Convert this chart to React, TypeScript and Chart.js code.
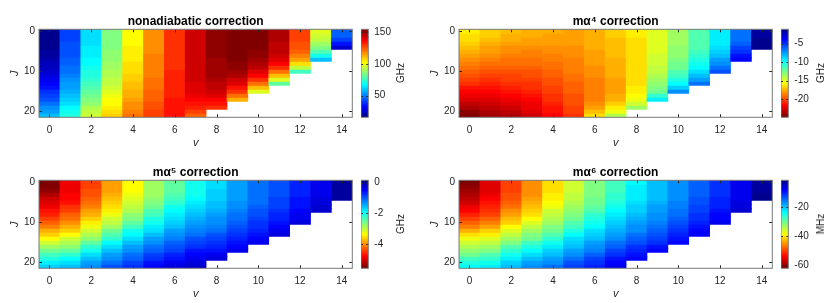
import React, { useEffect, useRef } from 'react';
import { Chart, registerables } from 'chart.js';

Chart.register(...registerables);

const FONT = "'Liberation Sans', Arial, Helvetica, sans-serif";
Chart.defaults.font.family = FONT;
Chart.defaults.color = '#262626';

// vibrational quantum number v (columns) and axis ticks
const V_LEVELS = [0, 1, 2, 3, 4, 5, 6, 7, 8, 9, 10, 11, 12, 13, 14];
const V_TICKS = [0, 2, 4, 6, 8, 10, 12, 14];
const J_TICKS = [0, 10, 20];

// each inner array: values for J = 0 .. Jmax of that v
const NONADIABATIC_GHZ = [
  [15.5, 15.7, 16.1, 16.6, 17.3, 18.3, 19.4, 20.6, 22.1, 23.8, 25.6, 27.7, 29.9, 32.2, 34.8, 37.6, 40.5, 43.6, 47.0, 50.5, 54.1, 58.0],
  [41.0, 41.1, 41.4, 41.8, 42.3, 43.0, 43.7, 44.6, 45.7, 46.9, 48.1, 49.6, 51.1, 52.8, 54.7, 56.6, 58.7, 60.9, 63.2, 65.7, 68.3, 71.0],
  [62.0, 62.1, 62.4, 62.9, 63.5, 64.2, 65.1, 66.1, 67.3, 68.6, 70.1, 71.7, 73.5, 75.4, 77.5, 79.6, 82.0, 84.5, 87.2, 90.0, 92.9, 96.0],
  [84.0, 84.1, 84.3, 84.7, 85.1, 85.6, 86.3, 87.0, 87.9, 88.9, 90.0, 91.2, 92.5, 93.9, 95.4, 97.0, 98.7, 100.6, 102.5, 104.6, 106.7, 109.0],
  [102.0, 102.1, 102.2, 102.5, 102.8, 103.2, 103.7, 104.3, 105.0, 105.7, 106.5, 107.4, 108.4, 109.5, 110.6, 111.9, 113.2, 114.6, 116.1, 117.6, 119.3, 121.0],
  [117.0, 117.0, 117.1, 117.3, 117.5, 117.7, 118.0, 118.3, 118.7, 119.1, 119.6, 120.1, 120.7, 121.3, 122.0, 122.7, 123.5, 124.3, 125.1, 126.1, 127.0, 128.0],
  [130.0, 130.0, 130.1, 130.1, 130.2, 130.3, 130.5, 130.6, 130.8, 131.0, 131.2, 131.4, 131.7, 132.0, 132.3, 132.6, 132.9, 133.3, 133.7, 134.1, 134.5, 135.0],
  [143.0, 143.0, 143.0, 143.0, 143.0, 143.0, 143.0, 143.0, 142.9, 142.9, 142.7, 142.6, 142.3, 141.8, 141.2, 140.3, 139.1, 137.5, 135.3, 132.4, 128.7, 124.0],
  [151.0, 151.0, 151.0, 151.0, 150.9, 150.9, 150.7, 150.5, 150.2, 149.8, 149.2, 148.5, 147.5, 146.2, 144.6, 142.6, 140.2, 137.4, 134.0, 130.0],
  [155.0, 155.0, 155.0, 154.9, 154.8, 154.6, 154.2, 153.6, 152.7, 151.4, 149.6, 147.2, 144.1, 140.1, 135.2, 129.2, 121.8, 113.0],
  [153.5, 153.5, 153.5, 153.4, 153.1, 152.6, 151.8, 150.4, 148.4, 145.6, 141.6, 136.4, 129.6, 121.0, 110.2, 97.0],
  [146.5, 146.5, 146.4, 146.2, 145.7, 144.7, 142.9, 140.1, 135.9, 130.0, 121.8, 111.0, 96.9, 79.0],
  [127.0, 127.0, 126.8, 126.4, 125.3, 123.2, 119.6, 113.8, 105.2, 92.9, 76.0],
  [97.5, 96.1, 93.4, 89.2, 83.8, 76.9, 68.6, 59.0],
  [46.0, 43.9, 39.7, 33.4, 25.0],
];

const MA4_GHZ = [
  [-16.10, -16.39, -16.69, -17.01, -17.33, -17.66, -18.01, -18.37, -18.74, -19.12, -19.50, -19.91, -20.31, -20.74, -21.17, -21.61, -22.06, -22.53, -23.00, -23.60, -24.20, -24.80],
  [-16.80, -17.05, -17.30, -17.58, -17.85, -18.14, -18.44, -18.76, -19.08, -19.40, -19.74, -20.09, -20.44, -20.81, -21.18, -21.57, -21.96, -22.36, -22.77, -23.20, -23.63, -24.07],
  [-17.36, -17.57, -17.78, -18.01, -18.24, -18.48, -18.73, -18.99, -19.26, -19.53, -19.81, -20.10, -20.39, -20.69, -21.00, -21.32, -21.65, -21.98, -22.32, -22.68, -23.03, -23.40],
  [-17.60, -17.78, -17.97, -18.17, -18.37, -18.57, -18.79, -19.01, -19.25, -19.48, -19.72, -19.97, -20.23, -20.49, -20.76, -21.04, -21.32, -21.61, -21.91, -22.21, -22.52, -22.84],
  [-17.74, -17.88, -18.01, -18.16, -18.31, -18.47, -18.63, -18.80, -18.97, -19.14, -19.32, -19.51, -19.70, -19.90, -20.10, -20.30, -20.52, -20.73, -20.95, -21.18, -21.41, -21.65],
  [-17.84, -17.93, -18.03, -18.13, -18.23, -18.33, -18.44, -18.56, -18.67, -18.79, -18.91, -19.04, -19.17, -19.30, -19.44, -19.58, -19.72, -19.87, -20.02, -20.17, -20.33, -20.49],
  [-17.50, -17.55, -17.62, -17.69, -17.76, -17.86, -17.95, -18.05, -18.17, -18.29, -18.40, -18.50, -18.59, -18.66, -18.71, -18.74, -18.69, -18.57, -18.33, -17.98, -17.38, -16.44],
  [-17.03, -17.05, -17.08, -17.12, -17.20, -17.27, -17.36, -17.46, -17.55, -17.65, -17.74, -17.81, -17.88, -17.93, -17.95, -17.91, -17.74, -17.46, -16.98, -16.32, -15.25, -14.07],
  [-16.32, -16.32, -16.34, -16.37, -16.39, -16.44, -16.48, -16.51, -16.53, -16.56, -16.56, -16.53, -16.48, -16.41, -16.29, -16.10, -15.84, -15.37, -14.66, -13.71],
  [-15.04, -15.04, -15.01, -14.99, -14.94, -14.87, -14.78, -14.66, -14.52, -14.35, -14.16, -13.95, -13.71, -13.36, -12.88, -12.29, -11.10, -9.45],
  [-13.47, -13.47, -13.45, -13.40, -13.33, -13.24, -13.07, -12.88, -12.62, -12.29, -11.86, -11.34, -10.63, -9.80, -8.73, -7.31],
  [-11.82, -11.82, -11.77, -11.70, -11.58, -11.39, -11.10, -10.75, -10.32, -9.80, -9.21, -8.50, -7.55, -6.36],
  [-9.56, -9.54, -9.49, -9.37, -9.21, -8.92, -8.45, -7.79, -7.15, -6.41, -5.65],
  [-6.67, -6.60, -6.41, -6.01, -5.53, -4.94, -4.35, -3.76],
  [-1.62, -1.58, -1.50, -1.38, -1.20],
];

const MA5_GHZ = [
  [-5.55, -5.50, -5.40, -5.24, -5.09, -4.95, -4.84, -4.72, -4.58, -4.41, -4.24, -4.04, -3.84, -3.61, -3.36, -3.10, -2.84, -2.59, -2.33, -2.10, -1.87, -1.67],
  [-4.92, -4.91, -4.88, -4.82, -4.75, -4.67, -4.55, -4.43, -4.30, -4.16, -4.01, -3.82, -3.61, -3.36, -3.10, -2.90, -2.70, -2.44, -2.19, -1.96, -1.73, -1.56],
  [-4.41, -4.40, -4.38, -4.34, -4.27, -4.18, -4.07, -3.93, -3.78, -3.65, -3.50, -3.30, -3.10, -2.90, -2.70, -2.47, -2.24, -1.99, -1.73, -1.56, -1.39, -1.28],
  [-3.90, -3.89, -3.87, -3.82, -3.75, -3.67, -3.56, -3.42, -3.27, -3.13, -2.99, -2.79, -2.59, -2.39, -2.19, -1.96, -1.73, -1.59, -1.45, -1.28, -1.10, -0.99],
  [-3.36, -3.35, -3.33, -3.28, -3.20, -3.10, -2.99, -2.88, -2.76, -2.62, -2.47, -2.27, -2.07, -1.90, -1.73, -1.59, -1.45, -1.30, -1.16, -1.02, -0.88, -0.76],
  [-2.87, -2.87, -2.84, -2.80, -2.73, -2.64, -2.53, -2.42, -2.30, -2.16, -2.02, -1.87, -1.73, -1.59, -1.45, -1.30, -1.16, -1.02, -0.88, -0.76, -0.65, -0.53],
  [-2.47, -2.47, -2.44, -2.40, -2.30, -2.19, -2.07, -1.96, -1.85, -1.76, -1.67, -1.56, -1.45, -1.33, -1.22, -1.08, -0.93, -0.83, -0.73, -0.59, -0.45, -0.36],
  [-2.07, -2.07, -2.05, -2.02, -1.94, -1.85, -1.77, -1.69, -1.62, -1.53, -1.45, -1.33, -1.22, -1.10, -0.99, -0.88, -0.76, -0.62, -0.48, -0.39, -0.31, -0.25],
  [-1.73, -1.73, -1.72, -1.70, -1.66, -1.62, -1.56, -1.50, -1.45, -1.36, -1.28, -1.19, -1.10, -0.99, -0.88, -0.81, -0.73, -0.59, -0.45, -0.36],
  [-1.45, -1.45, -1.43, -1.42, -1.38, -1.33, -1.28, -1.22, -1.16, -1.10, -1.05, -0.96, -0.88, -0.81, -0.73, -0.61, -0.48, -0.42],
  [-1.16, -1.16, -1.16, -1.14, -1.13, -1.10, -1.05, -0.99, -0.93, -0.88, -0.82, -0.76, -0.71, -0.59, -0.48, -0.39],
  [-0.93, -0.93, -0.93, -0.92, -0.90, -0.88, -0.83, -0.78, -0.73, -0.68, -0.62, -0.52, -0.42, -0.36],
  [-0.68, -0.68, -0.67, -0.66, -0.64, -0.62, -0.58, -0.52, -0.45, -0.40, -0.36],
  [-0.42, -0.42, -0.41, -0.39, -0.36, -0.33, -0.29, -0.25],
  [-0.02, -0.01, 0.00, 0.02, 0.04],
];

const MA6_MHZ = [
  [-62.0, -60.5, -59.6, -58.4, -57.5, -56.6, -55.4, -54.2, -52.35, -50.54, -48.73, -46.32, -43.91, -40.9, -37.88, -36.07, -34.26, -32.15, -30.04, -27.93, -25.82, -23.41],
  [-55.97, -55.85, -55.49, -54.88, -54.16, -53.26, -52.11, -51.03, -49.94, -48.13, -46.32, -44.21, -42.1, -39.39, -36.67, -34.87, -33.06, -30.95, -28.84, -27.03, -25.22, -22.81],
  [-50.54, -50.42, -50.12, -49.64, -48.98, -48.13, -47.05, -45.84, -44.51, -43.01, -41.5, -39.09, -36.67, -34.87, -33.06, -30.95, -28.84, -26.91, -24.92, -22.93, -21.0, -19.79],
  [-45.72, -45.66, -45.42, -45.06, -44.57, -43.91, -43.01, -41.92, -40.59, -38.6, -36.67, -35.17, -33.66, -31.85, -30.04, -27.93, -25.82, -23.71, -21.6, -20.09, -18.58, -17.38],
  [-41.2, -41.08, -40.77, -40.29, -39.51, -38.48, -37.58, -36.55, -35.47, -34.26, -33.06, -31.55, -30.04, -28.23, -26.42, -24.61, -22.81, -21.3, -19.79, -18.28, -16.78, -15.57],
  [-36.07, -36.01, -35.77, -35.41, -34.93, -34.26, -33.36, -32.33, -31.25, -30.04, -28.84, -27.33, -25.82, -24.01, -22.2, -21.0, -19.79, -18.28, -16.78, -15.27, -13.76, -12.55],
  [-31.85, -31.79, -31.55, -31.19, -30.7, -30.04, -29.14, -28.11, -27.03, -26.0, -24.92, -23.53, -22.2, -21.0, -19.79, -18.58, -17.38, -15.87, -14.36, -12.86, -11.35, -10.44],
  [-27.63, -27.57, -27.33, -26.97, -26.48, -25.82, -24.92, -23.89, -22.81, -21.9, -21.0, -20.09, -19.19, -17.98, -16.78, -15.57, -14.36, -12.86, -11.35, -10.14, -8.94, -7.73],
  [-23.41, -23.35, -23.17, -22.87, -22.44, -21.9, -21.3, -20.69, -20.09, -19.37, -18.58, -17.68, -16.78, -15.57, -14.36, -13.16, -11.95, -10.93, -9.84, -8.33],
  [-20.39, -20.39, -20.27, -20.03, -19.67, -19.19, -18.58, -17.98, -17.38, -16.78, -16.17, -15.27, -14.36, -13.46, -12.55, -11.35, -10.14, -8.63],
  [-17.38, -17.38, -17.26, -17.08, -16.78, -16.47, -15.99, -15.51, -14.97, -14.24, -13.46, -12.73, -11.95, -11.05, -10.14, -8.63],
  [-14.36, -14.36, -14.24, -14.06, -13.76, -13.46, -12.98, -12.49, -11.95, -11.53, -11.05, -10.02, -8.94, -8.33],
  [-11.35, -11.35, -11.29, -11.17, -10.99, -10.75, -10.26, -9.66, -8.94, -8.33, -7.73],
  [-8.03, -8.03, -7.91, -7.67, -7.43, -7.13, -6.7, -6.22],
  [-2.91, -2.85, -2.73, -2.54, -2.3],
];

// colour limits and colour-bar ticks
const NONADIABATIC_CLIM = [15.5, 155];
const MA4_CLIM = [-24.85, -1.15];
const MA5_CLIM = [-5.55, 0.15];
const MA6_CLIM = [-62, -1.7];
const NONADIABATIC_CBAR_TICKS = [50, 100, 150];
const MA4_CBAR_TICKS = [-20, -15, -10, -5];
const MA5_CBAR_TICKS = [-4, -2, 0];
const MA6_CBAR_TICKS = [-60, -40, -20];

const PANELS = [
  { title: 'nonadiabatic correction', unit: 'GHz', values: NONADIABATIC_GHZ, clim: NONADIABATIC_CLIM, cbarTicks: NONADIABATIC_CBAR_TICKS, reversed: false, left: 0, top: 0 },
  { title: 'm\u03B1\u2074 correction', unit: 'GHz', values: MA4_GHZ, clim: MA4_CLIM, cbarTicks: MA4_CBAR_TICKS, reversed: true, left: 420, top: 0 },
  { title: 'm\u03B1\u2075 correction', unit: 'GHz', values: MA5_GHZ, clim: MA5_CLIM, cbarTicks: MA5_CBAR_TICKS, reversed: true, left: 0, top: 151 },
  { title: 'm\u03B1\u2076 correction', unit: 'MHz', values: MA6_MHZ, clim: MA6_CLIM, cbarTicks: MA6_CBAR_TICKS, reversed: true, left: 420, top: 151 },
];

const NLEV = 64;

function jet(x: number): string {
  const c = (v: number) => Math.max(0, Math.min(1, v));
  const r = c(Math.min(4 * x - 1.5, -4 * x + 4.5));
  const g = c(Math.min(4 * x - 0.5, -4 * x + 3.5));
  const b = c(Math.min(4 * x + 0.5, -4 * x + 2.5));
  return `rgb(${Math.round(r * 255)},${Math.round(g * 255)},${Math.round(b * 255)})`;
}

function colorFor(val: number, clim: number[], reversed: boolean): string {
  let idx = Math.floor(((val - clim[0]) / (clim[1] - clim[0])) * NLEV) + 1;
  idx = Math.max(1, Math.min(NLEV, idx));
  if (reversed) idx = NLEV + 1 - idx;
  return jet(idx / NLEV);
}

const framePlugin = {
  id: 'matlabFrame',
  afterDatasetsDraw(chart: any, _args: any, opts: any) {
    const { ctx, chartArea: a, scales } = chart;
    const len = opts.tickLen || 3;
    ctx.save();
    ctx.strokeStyle = '#262626';
    ctx.lineWidth = 1;
    ctx.beginPath();
    (opts.xTicks || []).forEach((v: number) => {
      const px = Math.round(scales.x.getPixelForValue(v)) + 0.5;
      ctx.moveTo(px, a.top);
      ctx.lineTo(px, a.top + len);
      ctx.moveTo(px, a.bottom);
      ctx.lineTo(px, a.bottom - len);
    });
    (opts.yTicks || []).forEach((v: number) => {
      const py = Math.round(scales.y.getPixelForValue(v)) + 0.5;
      ctx.moveTo(a.left, py);
      ctx.lineTo(a.left + len, py);
      ctx.moveTo(a.right, py);
      ctx.lineTo(a.right - len, py);
    });
    ctx.stroke();
    ctx.strokeStyle = '#7a7a7a';
    ctx.strokeRect(a.left, a.top, a.right - a.left, a.bottom - a.top);
    ctx.restore();
  },
};

const HW = 357;
const HH = 150;

function Heatmap({ panel }: { panel: any }) {
  const ref = useRef<HTMLCanvasElement>(null);
  useEffect(() => {
    const { values, clim, reversed } = panel;
    const nRows = Math.max(...values.map((c: number[]) => c.length));
    const jRows = Array.from({ length: nRows }, (_, j) => j);
    const datasets = jRows.map((J) => ({
      label: `J=${J}`,
      data: V_LEVELS.map((v) => (J < values[v].length ? [J - 0.5, J + 0.5] : null)),
      backgroundColor: (ctx: any) => {
        const col = values[ctx.dataIndex];
        if (!col || col[J] === undefined) return 'rgba(0,0,0,0)';
        return colorFor(col[J], clim, reversed);
      },
      borderWidth: 0,
      barPercentage: 1,
      categoryPercentage: 1,
    }));
    const chart = new Chart(ref.current as HTMLCanvasElement, {
      type: 'bar',
      data: { labels: V_LEVELS.map(String), datasets },
      plugins: [framePlugin],
      options: {
        responsive: false,
        animation: false,
        events: [],
        layout: { padding: { left: 0, right: 4.7, top: 0, bottom: 0 } },
        plugins: {
          legend: { display: false },
          tooltip: { enabled: false },
          title: {
            display: true,
            text: panel.title,
            fullSize: false,
            color: '#000',
            font: { family: FONT, size: 12, weight: 'bold' },
            padding: { top: 14.6, bottom: 0.3 },
          },
          matlabFrame: { xTicks: V_TICKS, yTicks: J_TICKS, tickLen: 3 },
        } as any,
        scales: {
          x: {
            type: 'category',
            stacked: true,
            offset: true,
            grid: { display: false, drawTicks: false },
            border: { display: false },
            ticks: {
              autoSkip: false,
              maxRotation: 0,
              padding: 7,
              color: '#262626',
              font: { family: FONT, size: 10 },
              callback: (_v: any, i: number) => (V_TICKS.includes(V_LEVELS[i]) ? String(V_LEVELS[i]) : ''),
            },
            title: { display: true, text: 'v', color: '#262626', font: { family: FONT, size: 11, style: 'italic' }, padding: 0 },
            afterFit: (s: any) => { s.height = 32.7; },
          },
          y: {
            type: 'linear',
            reverse: true,
            min: -0.5,
            max: 21.5,
            stacked: false,
            grid: { display: false, drawTicks: false },
            border: { display: false },
            ticks: { stepSize: 10, includeBounds: false, padding: 4, color: '#262626', font: { family: FONT, size: 10 } },
            title: { display: true, text: 'J', color: '#262626', font: { family: FONT, size: 11, style: 'italic' }, padding: { top: 8, bottom: 0 } },
            afterFit: (s: any) => { s.width = 39; },
          },
        } as any,
      },
    });
    return () => chart.destroy();
  }, [panel]);
  return (
    <canvas
      ref={ref}
      width={HW}
      height={HH}
      style={{ position: 'absolute', left: panel.left, top: panel.top, width: HW, height: HH }}
    />
  );
}

const CW = 40;

function Colorbar({ panel }: { panel: any }) {
  const ref = useRef<HTMLCanvasElement>(null);
  useEffect(() => {
    const { clim, reversed, cbarTicks } = panel;
    const step = (clim[1] - clim[0]) / NLEV;
    const levels = Array.from({ length: NLEV }, (_, i) => i);
    const datasets = levels.map((i) => ({
      label: `level ${i + 1}`,
      data: [[clim[0] + i * step, clim[0] + (i + 1) * step]],
      backgroundColor: jet(reversed ? (NLEV - i) / NLEV : (i + 1) / NLEV),
      borderWidth: 0,
      barPercentage: 1,
      categoryPercentage: 1,
    }));
    const chart = new Chart(ref.current as HTMLCanvasElement, {
      type: 'bar',
      data: { labels: [''], datasets },
      plugins: [framePlugin],
      options: {
        responsive: false,
        animation: false,
        events: [],
        layout: { padding: { left: 0, right: 0, top: 29.3, bottom: 32.7 } },
        plugins: {
          legend: { display: false },
          tooltip: { enabled: false },
          matlabFrame: { xTicks: [], yTicks: cbarTicks, tickLen: 2 },
        } as any,
        scales: {
          x: { type: 'category', display: false, stacked: true, offset: true },
          y: {
            type: 'linear',
            position: 'right',
            min: clim[0],
            max: clim[1],
            stacked: false,
            grid: { display: false, drawTicks: false },
            border: { display: false },
            ticks: { padding: 6, color: '#262626', font: { family: FONT, size: 10 } },
            afterBuildTicks: (s: any) => { s.ticks = cbarTicks.map((v: number) => ({ value: v })); },
            afterFit: (s: any) => { s.width = CW - 7.3; },
          },
        } as any,
      },
    });
    return () => chart.destroy();
  }, [panel]);
  return (
    <canvas
      ref={ref}
      width={CW}
      height={HH}
      style={{ position: 'absolute', left: panel.left + 361, top: panel.top, width: CW, height: HH }}
    />
  );
}

export default function App() {
  return (
    <div style={{ position: 'fixed', left: 0, top: 0, width: 830, height: 303, background: '#fff', overflow: 'hidden' }}>
      {PANELS.map((p) => (
        <React.Fragment key={p.title}>
          <Heatmap panel={p} />
          <Colorbar panel={p} />
          <div
            style={{
              position: 'absolute',
              left: p.left + 401,
              top: p.top + 73,
              transform: 'translate(-50%, -50%) rotate(-90deg)',
              fontFamily: FONT,
              fontSize: 10,
              color: '#262626',
              whiteSpace: 'nowrap',
              lineHeight: 1,
            }}
          >
            {p.unit}
          </div>
        </React.Fragment>
      ))}
    </div>
  );
}
